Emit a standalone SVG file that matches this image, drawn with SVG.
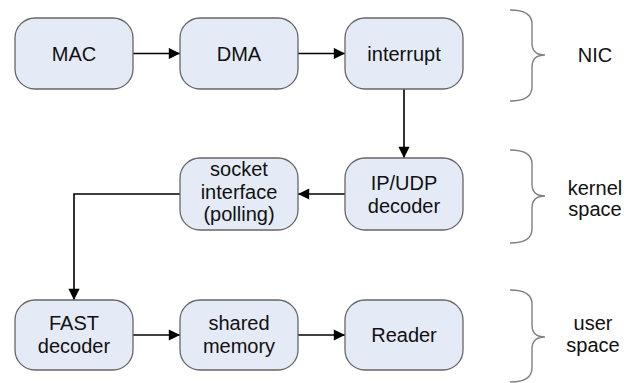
<svg xmlns="http://www.w3.org/2000/svg" width="624" height="383" viewBox="0 0 624 383">
  <style>
    .box { fill: #e5ebf6; stroke: #666; stroke-width: 1.3; }
    .lbl { font-family: "Liberation Sans", Arial, sans-serif; font-size: 20px; fill: #111; text-anchor: middle; }
    .wire { fill: none; stroke: #000; stroke-width: 1.6; }
    .brace { fill: none; stroke: #808080; stroke-width: 1.4; }
  </style>
  <defs>
    <marker id="arrow" viewBox="0 0 10 10" refX="10" refY="5" markerWidth="7.5" markerHeight="7" orient="auto" markerUnits="strokeWidth">
      <path d="M0,0 L10,5 L0,10 z" fill="#000"/>
    </marker>
  </defs>
  <rect width="624" height="383" fill="#fff"/>

  <!-- connectors -->
  <g id="connectors">
    <path class="wire" d="M133,53.5 H180" marker-end="url(#arrow)"/>
    <path class="wire" d="M298,53.5 H345" marker-end="url(#arrow)"/>
    <path class="wire" d="M404,89 V158" marker-end="url(#arrow)"/>
    <path class="wire" d="M345,194 H298" marker-end="url(#arrow)"/>
    <path class="wire" d="M180,194 H74 V300" marker-end="url(#arrow)"/>
    <path class="wire" d="M133,335 H180" marker-end="url(#arrow)"/>
    <path class="wire" d="M298,335 H345" marker-end="url(#arrow)"/>
  </g>

  <!-- NIC row -->
  <g id="mac">
    <rect class="box" x="15" y="18" width="118" height="71" rx="20"/>
    <text class="lbl" x="74" y="60.5">MAC</text>
  </g>
  <g id="dma">
    <rect class="box" x="180" y="18" width="118" height="71" rx="20"/>
    <text class="lbl" x="239" y="60.5">DMA</text>
  </g>
  <g id="interrupt">
    <rect class="box" x="345" y="18" width="118" height="71" rx="20"/>
    <text class="lbl" x="404" y="60.5">interrupt</text>
  </g>

  <!-- kernel row -->
  <g id="socket">
    <rect class="box" x="180" y="158" width="118" height="72" rx="20"/>
    <text class="lbl" x="239" y="176">socket</text>
    <text class="lbl" x="239" y="198.5">interface</text>
    <text class="lbl" x="239" y="221">(polling)</text>
  </g>
  <g id="ipudp">
    <rect class="box" x="345" y="158" width="118" height="72" rx="20"/>
    <text class="lbl" x="404" y="190">IP/UDP</text>
    <text class="lbl" x="404" y="212.5">decoder</text>
  </g>

  <!-- user row -->
  <g id="fast">
    <rect class="box" x="15" y="300" width="118" height="70" rx="20"/>
    <text class="lbl" x="74" y="330">FAST</text>
    <text class="lbl" x="74" y="352.5">decoder</text>
  </g>
  <g id="shared">
    <rect class="box" x="180" y="300" width="118" height="70" rx="20"/>
    <text class="lbl" x="239" y="330">shared</text>
    <text class="lbl" x="239" y="352.5">memory</text>
  </g>
  <g id="reader">
    <rect class="box" x="345" y="300" width="118" height="70" rx="20"/>
    <text class="lbl" x="404" y="342">Reader</text>
  </g>

  <!-- layer braces and labels -->
  <g id="nic-layer">
    <path class="brace" d="M510,10 Q532,10 532,24 V43 Q532,55 545,55 Q532,55 532,67 V87 Q532,101 510,101"/>
    <text class="lbl" x="595" y="62">NIC</text>
  </g>
  <g id="kernel-layer">
    <path class="brace" d="M510,150 Q532,150 532,164 V184 Q532,196 545,196 Q532,196 532,208 V229 Q532,243 510,243"/>
    <text class="lbl" x="595" y="195">kernel</text>
    <text class="lbl" x="595" y="216">space</text>
  </g>
  <g id="user-layer">
    <path class="brace" d="M510,290 Q532,290 532,304 V325 Q532,337 545,337 Q532,337 532,349 V368 Q532,382 510,382"/>
    <text class="lbl" x="593" y="330">user</text>
    <text class="lbl" x="593" y="352">space</text>
  </g>
</svg>
